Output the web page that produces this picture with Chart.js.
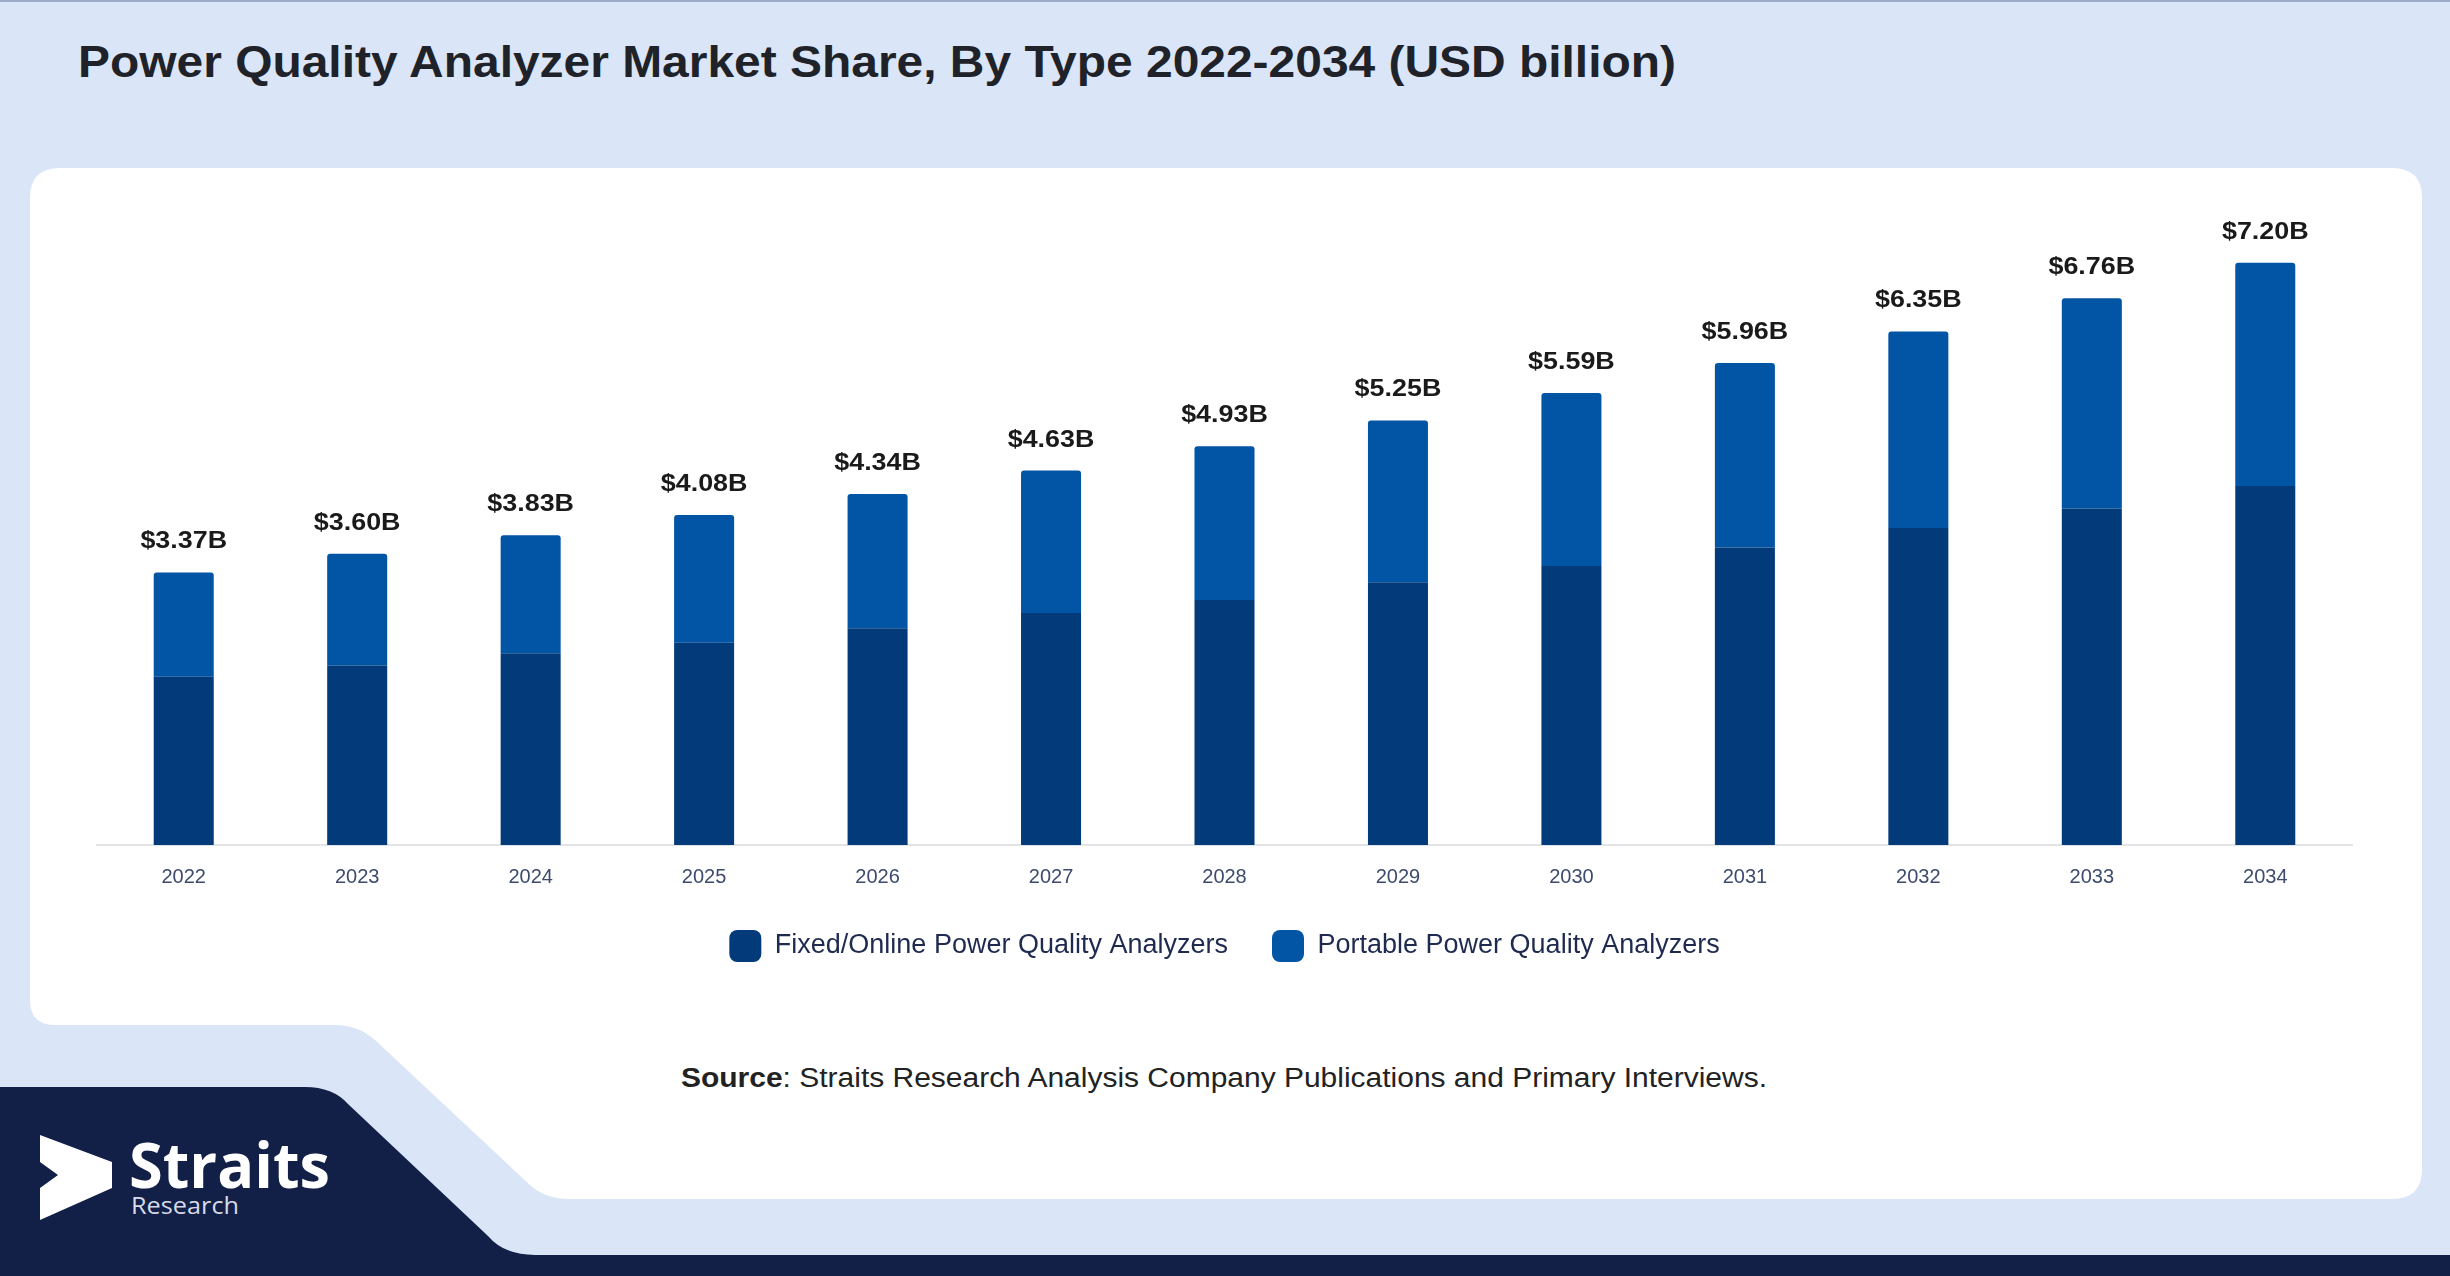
<!DOCTYPE html>
<html>
<head>
<meta charset="utf-8">
<script src="https://cdn.jsdelivr.net/npm/chart.js@4.4.1/dist/chart.umd.min.js"></script>
<style>
  html, body {
    margin: 0;
    padding: 0;
  }
  body {
    width: 2450px;
    height: 1276px;
    background: #dae6f8;
    position: relative;
    overflow: hidden;
    font-family: "Liberation Sans", Arial, sans-serif;
  }
  #topline {
    position: absolute;
    left: 0;
    top: 0;
    width: 2450px;
    height: 2px;
    background: #9eabc9;
  }
  #deco {
    position: absolute;
    left: 0;
    top: 0;
  }
  #chartBox {
    position: absolute;
    left: 0;
    top: 0;
  }
</style>
</head>
<body>
<div id="topline"></div>

<svg id="deco" width="2450" height="1276" xmlns="http://www.w3.org/2000/svg">
  <!-- white card, with the cut-out at the bottom left -->
  <path fill="#ffffff" d="M 60 168 H 2392 Q 2422 168 2422 198 V 1169 Q 2422 1199 2392 1199
    H 570 Q 545 1199 530 1185 L 375 1040 Q 358 1025 335 1025 H 55 Q 30 1025 30 1000 V 198 Q 30 168 60 168 Z"/>
  <!-- navy footer -->
  <path fill="#121f47" d="M 0 1087 H 305 Q 333 1087 348 1104 L 488 1236 Q 504 1255 535 1255 H 2450 V 1276 H 0 Z"/>
  <!-- logo -->
  <polygon fill="#ffffff" points="40,1135 112,1162 112,1188 40,1220 40,1188 58,1175 40,1162"/>
  <text x="129" y="1188" fill="#ffffff" font-family="'Open Sans', 'Noto Sans', sans-serif" font-weight="700"
        font-size="62" textLength="201" lengthAdjust="spacingAndGlyphs">Straits</text>
  <text x="131" y="1214" fill="#d5dbe8" font-family="'Open Sans', 'Noto Sans', sans-serif"
        font-size="24" textLength="108" lengthAdjust="spacingAndGlyphs">Research</text>

  <!-- title -->
  <text x="78" y="77" fill="#1f2329" font-family="'Liberation Sans', Arial, sans-serif" font-weight="700"
        font-size="45" textLength="1598" lengthAdjust="spacingAndGlyphs">Power Quality Analyzer Market Share, By Type 2022-2034 (USD billion)</text>

  <!-- source -->
  <text x="681" y="1087" fill="#222222" font-family="'Liberation Sans', Arial, sans-serif" font-size="27"
        textLength="1086" lengthAdjust="spacingAndGlyphs"><tspan font-weight="700">Source</tspan>: Straits Research Analysis Company Publications and Primary Interviews.</text>
</svg>

<div id="chartBox">
  <canvas id="chart" width="2450" height="972"></canvas>
</div>

<script>
const years = ["2022", "2023", "2024", "2025", "2026", "2027", "2028", "2029", "2030", "2031", "2032", "2033", "2034"];

// USD billion
const fixedOnline = [2.08, 2.22, 2.37, 2.50, 2.68, 2.87, 3.03, 3.25, 3.45, 3.68, 3.92, 4.16, 4.44];
const portable = [1.29, 1.38, 1.46, 1.58, 1.66, 1.76, 1.90, 2.00, 2.14, 2.28, 2.43, 2.60, 2.76];

const seriesNames = ["Fixed/Online Power Quality Analyzers", "Portable Power Quality Analyzers"];

const DARK = "#033b7a";
const BLUE = "#0254a5";
const FONT = "'Liberation Sans', Arial, sans-serif";

// totals written above each stack
const totalsPlugin = {
  id: "totals",
  afterDatasetsDraw(chart) {
    const ctx = chart.ctx;
    const yScale = chart.scales.y;
    const meta = chart.getDatasetMeta(1);
    ctx.save();
    ctx.font = "bold 24px " + FONT;
    ctx.fillStyle = "#1a1a1a";
    ctx.textAlign = "center";
    ctx.textBaseline = "alphabetic";
    meta.data.forEach((bar, i) => {
      const total = fixedOnline[i] + portable[i];
      const y = yScale.getPixelForValue(total) - 24;
      ctx.save();
      ctx.translate(bar.x, y);
      ctx.scale(1.12, 1);
      ctx.fillText("$" + total.toFixed(2) + "B", 0, 0);
      ctx.restore();
    });
    ctx.restore();
  },
};

new Chart(document.getElementById("chart"), {
  type: "bar",
  data: {
    labels: years,
    datasets: [
      {
        label: seriesNames[0],
        data: fixedOnline,
        backgroundColor: DARK,
        borderWidth: 0,
        borderRadius: 0,
      },
      {
        label: seriesNames[1],
        data: portable,
        backgroundColor: BLUE,
        borderWidth: 0,
        borderRadius: { topLeft: 3, topRight: 3 },
        borderSkipped: false,
      },
    ],
  },
  options: {
    responsive: false,
    devicePixelRatio: 1,
    animation: false,
    layout: {
      padding: { top: 198, left: 97, right: 98, bottom: 0 },
    },
    datasets: {
      bar: {
        categoryPercentage: 1,
        barPercentage: 0.346,
      },
    },
    plugins: {
      legend: {
        display: true,
        position: "bottom",
        labels: {
          font: { family: FONT, size: 27 },
          color: "#1e2a4f",
          boxWidth: 32,
          boxHeight: 32,
          useBorderRadius: true,
          borderRadius: 8,
          padding: 44,
        },
      },
      tooltip: { enabled: false },
    },
    scales: {
      x: {
        stacked: true,
        grid: { display: false, drawTicks: false },
        border: { display: true, color: "#e2e4e8", width: 2 },
        ticks: {
          color: "#3d4b6e",
          font: { family: FONT, size: 20 },
          padding: 20,
        },
        afterFit: (scale) => {
          scale.height -= 23;
        },
      },
      y: {
        stacked: true,
        display: false,
        min: 0,
        max: 8,
      },
    },
  },
  plugins: [totalsPlugin],
});
</script>
</body>
</html>
